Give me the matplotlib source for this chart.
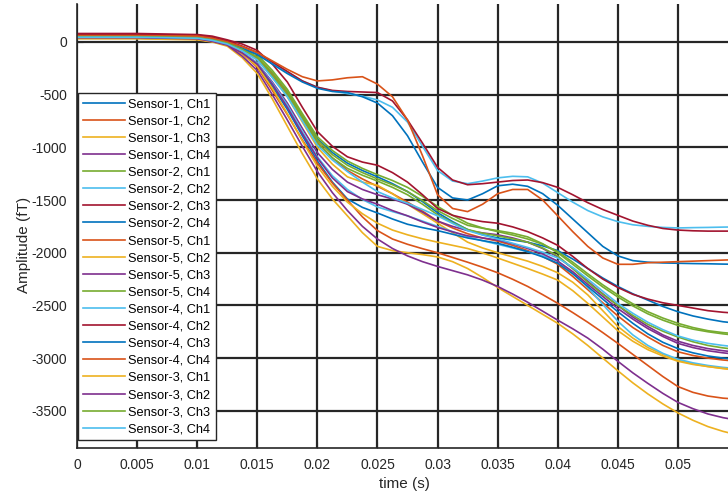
import numpy as np
import matplotlib.pyplot as plt

plt.rcParams['font.family'] = ['Liberation Sans', 'DejaVu Sans']
plt.rcParams['axes.unicode_minus'] = False

# time (s)
t = [0, 0.005, 0.01, 0.01125, 0.0125, 0.01375, 0.015, 0.01625, 0.0175, 0.01875,
     0.02, 0.02125, 0.0225, 0.02375, 0.025, 0.02625, 0.0275, 0.02875, 0.03, 0.03125,
     0.0325, 0.03375, 0.035, 0.03625, 0.0375, 0.03875, 0.04, 0.04125, 0.0425, 0.04375,
     0.045, 0.04625, 0.0475, 0.04875, 0.05, 0.05125, 0.0525, 0.05375, 0.055]

# amplitude (fT)
s1_ch1 = [40, 40, 30, 10, -20, -70, -150, -300, -480, -700, -920, -1050, -1150,
          -1220, -1280, -1345, -1420, -1515, -1620, -1705, -1780, -1830, -1860,
          -1880, -1900, -1935, -1980, -2060, -2150, -2240, -2320, -2390, -2450,
          -2510, -2560, -2600, -2630, -2655, -2670]
s1_ch2 = [65, 65, 55, 35, 0, -60, -150, -300, -480, -710, -950, -1100, -1220,
          -1300, -1370, -1440, -1520, -1605, -1700, -1765, -1820, -1860, -1890,
          -1930, -1980, -2035, -2110, -2225, -2350, -2475, -2600, -2710, -2800,
          -2880, -2940, -2975, -3000, -3018, -3030]
s1_ch3 = [40, 40, 30, 10, -20, -80, -170, -330, -520, -760, -1000, -1160, -1280,
          -1330, -1360, -1440, -1540, -1630, -1720, -1810, -1900, -1955, -2000,
          -2040, -2080, -2130, -2190, -2280, -2400, -2550, -2700, -2810, -2900,
          -2965, -3020, -3055, -3080, -3100, -3115]
s1_ch4 = [35, 35, 25, 5, -30, -100, -200, -380, -580, -820, -1050, -1210, -1330,
          -1400, -1450, -1490, -1540, -1615, -1700, -1750, -1790, -1812, -1830,
          -1860, -1900, -1960, -2040, -2150, -2270, -2390, -2500, -2610, -2700,
          -2780, -2840, -2880, -2910, -2930, -2945]
s2_ch1 = [60, 60, 50, 30, 0, -50, -120, -270, -450, -680, -900, -1030, -1130,
          -1200, -1260, -1315, -1380, -1465, -1560, -1645, -1720, -1765, -1800,
          -1832, -1870, -1920, -1990, -2090, -2200, -2305, -2400, -2485, -2560,
          -2620, -2670, -2710, -2740, -2758, -2770]
s2_ch2 = [50, 50, 40, 15, -25, -100, -200, -390, -600, -850, -1090, -1270, -1400,
          -1495, -1566, -1610, -1650, -1700, -1750, -1800, -1850, -1887, -1920,
          -1955, -1990, -2030, -2080, -2190, -2330, -2490, -2650, -2780, -2880,
          -2955, -3010, -3045, -3070, -3088, -3100]
s2_ch3 = [80, 80, 70, 55, 20, -20, -80, -210, -380, -620, -850, -990, -1090,
          -1140, -1170, -1240, -1330, -1450, -1580, -1645, -1680, -1705, -1720,
          -1755, -1800, -1860, -1930, -2035, -2150, -2250, -2330, -2395, -2440,
          -2475, -2500, -2525, -2550, -2565, -2575]
s2_ch4 = [45, 45, 35, 10, -30, -110, -220, -420, -640, -890, -1130, -1330, -1490,
          -1570, -1623, -1680, -1730, -1762, -1790, -1825, -1860, -1885, -1910,
          -1948, -1990, -2040, -2100, -2200, -2320, -2440, -2560, -2670, -2770,
          -2850, -2910, -2950, -2980, -3000, -3015]
s5_ch1 = [50, 50, 40, 20, -20, -110, -240, -460, -690, -930, -1150, -1340, -1500,
          -1660, -1790, -1870, -1920, -1962, -2000, -2045, -2090, -2138, -2190,
          -2252, -2320, -2398, -2480, -2568, -2660, -2758, -2860, -2965, -3070,
          -3175, -3270, -3325, -3360, -3380, -3390]
s5_ch2 = [35, 35, 25, 5, -35, -115, -230, -440, -680, -940, -1180, -1370, -1520,
          -1630, -1720, -1785, -1830, -1868, -1900, -1930, -1960, -2002, -2050,
          -2100, -2150, -2203, -2260, -2360, -2480, -2610, -2740, -2840, -2920,
          -2980, -3030, -3060, -3080, -3097, -3110]
s5_ch3 = [40, 40, 30, 5, -30, -105, -210, -400, -620, -870, -1100, -1290, -1420,
          -1490, -1540, -1600, -1650, -1708, -1760, -1802, -1840, -1860, -1880,
          -1915, -1960, -2012, -2080, -2180, -2300, -2415, -2530, -2630, -2720,
          -2795, -2860, -2900, -2930, -2950, -2965]
s5_ch4 = [55, 55, 45, 25, -10, -65, -140, -290, -470, -700, -930, -1070, -1170,
          -1240, -1300, -1355, -1420, -1505, -1600, -1675, -1740, -1768, -1790,
          -1815, -1850, -1915, -2000, -2110, -2220, -2325, -2420, -2505, -2580,
          -2640, -2690, -2725, -2750, -2770, -2785]
s4_ch1 = [50, 50, 45, 30, 0, -50, -110, -200, -290, -370, -430, -465, -490,
          -515, -550, -620, -760, -990, -1220, -1320, -1345, -1320, -1290,
          -1275, -1280, -1340, -1430, -1520, -1600, -1660, -1705, -1735, -1750,
          -1760, -1765, -1762, -1760, -1757, -1755]
s4_ch2 = [70, 70, 65, 45, 10, -40, -100, -190, -280, -370, -430, -460, -470,
          -475, -480, -560, -740, -960, -1190, -1310, -1355, -1345, -1330,
          -1315, -1310, -1335, -1380, -1450, -1525, -1590, -1645, -1700, -1740,
          -1770, -1785, -1792, -1795, -1795, -1795]
s4_ch3 = [40, 40, 35, 20, -10, -60, -120, -210, -300, -380, -440, -470, -480,
          -520, -580, -700, -890, -1140, -1380, -1480, -1500, -1440, -1365,
          -1350, -1370, -1440, -1550, -1680, -1810, -1940, -2030, -2075, -2090,
          -2097, -2100, -2103, -2105, -2108, -2110]
s4_ch4 = [60, 60, 55, 35, 0, -45, -100, -180, -260, -330, -370, -360, -340,
          -330, -400, -520, -740, -1080, -1450, -1580, -1610, -1540, -1440,
          -1400, -1400, -1500, -1650, -1800, -1940, -2050, -2110, -2110, -2095,
          -2090, -2085, -2080, -2075, -2070, -2065]
s3_ch1 = [30, 30, 20, 0, -40, -150, -300, -540, -800, -1060, -1300, -1490, -1650,
          -1810, -1940, -1980, -2000, -2018, -2040, -2085, -2150, -2235, -2330,
          -2415, -2500, -2585, -2670, -2770, -2880, -3000, -3120, -3235, -3340,
          -3435, -3520, -3590, -3650, -3695, -3730]
s3_ch2 = [40, 40, 30, 5, -30, -135, -270, -500, -740, -990, -1230, -1430, -1600,
          -1750, -1870, -1960, -2030, -2085, -2130, -2170, -2210, -2260, -2320,
          -2392, -2470, -2555, -2640, -2722, -2810, -2915, -3030, -3140, -3240,
          -3335, -3420, -3480, -3530, -3565, -3590]
s3_ch3 = [50, 50, 40, 20, -10, -70, -160, -320, -500, -730, -960, -1100, -1200,
          -1265, -1320, -1380, -1450, -1540, -1640, -1715, -1780, -1815, -1840,
          -1868, -1900, -1955, -2030, -2150, -2280, -2395, -2500, -2595, -2680,
          -2745, -2800, -2845, -2880, -2903, -2920]
s3_ch4 = [45, 45, 35, 15, -20, -85, -170, -340, -520, -750, -980, -1120, -1230,
          -1330, -1420, -1480, -1530, -1590, -1650, -1722, -1790, -1832, -1870,
          -1910, -1950, -1995, -2050, -2140, -2250, -2365, -2480, -2575, -2660,
          -2730, -2790, -2830, -2860, -2880, -2895]

series = [s1_ch1, s1_ch2, s1_ch3, s1_ch4, s2_ch1, s2_ch2, s2_ch3, s2_ch4,
          s5_ch1, s5_ch2, s5_ch3, s5_ch4, s4_ch1, s4_ch2, s4_ch3, s4_ch4,
          s3_ch1, s3_ch2, s3_ch3, s3_ch4]
labels = [f"Sensor-{s}, Ch{c}" for s in [1, 2, 5, 4, 3] for c in [1, 2, 3, 4]]

# MATLAB default colour order
colors = ['#0072BD', '#D95319', '#EDB120', '#7E2F8E', '#77AC30', '#4DBEEE', '#A2142F']

fig = plt.figure(figsize=(7.28, 4.96), dpi=100)
ax = fig.add_axes([77 / 728, 1 - 448 / 496, 661 / 728, 444 / 496])

for i, (y, lab) in enumerate(zip(series, labels)):
    ax.plot(t, y, color=colors[i % 7], lw=1.2, label=lab)

ax.set_xlim(0, 0.055)
ax.set_ylim(-3853, 360)
ax.set_xticks(np.arange(0, 0.0501, 0.005))
ax.set_xticklabels(["0", "0.005", "0.01", "0.015", "0.02", "0.025", "0.03",
                    "0.035", "0.04", "0.045", "0.05"])
ax.set_yticks(np.arange(-3500, 1, 500))
ax.grid(True, color='#262626', lw=1.6)
ax.set_axisbelow(True)
ax.tick_params(direction='in', length=4, labelsize=10, colors='#262626', pad=7)
for side in ['top', 'right']:
    ax.spines[side].set_visible(False)
for side in ['left', 'bottom']:
    ax.spines[side].set_color('#262626')
    ax.spines[side].set_linewidth(1.2)

ax.set_xlabel("time (s)", fontsize=11, color='#262626')
ax.xaxis.set_label_coords(0.496, -0.066)
ax.set_ylabel("Amplitude (fT)", fontsize=11, color='#262626')
ax.yaxis.set_label_coords(-0.07, 0.457)

leg = ax.legend(loc='upper left', bbox_to_anchor=(0.0015, 0.7995), fontsize=9.2,
                handlelength=3.3, labelspacing=0.4, borderpad=0.4,
                handletextpad=0.25, fancybox=False, framealpha=1, borderaxespad=0)
leg.get_frame().set_edgecolor('#262626')
leg.get_frame().set_linewidth(1.0)

fig.savefig("out.png", dpi=100)
